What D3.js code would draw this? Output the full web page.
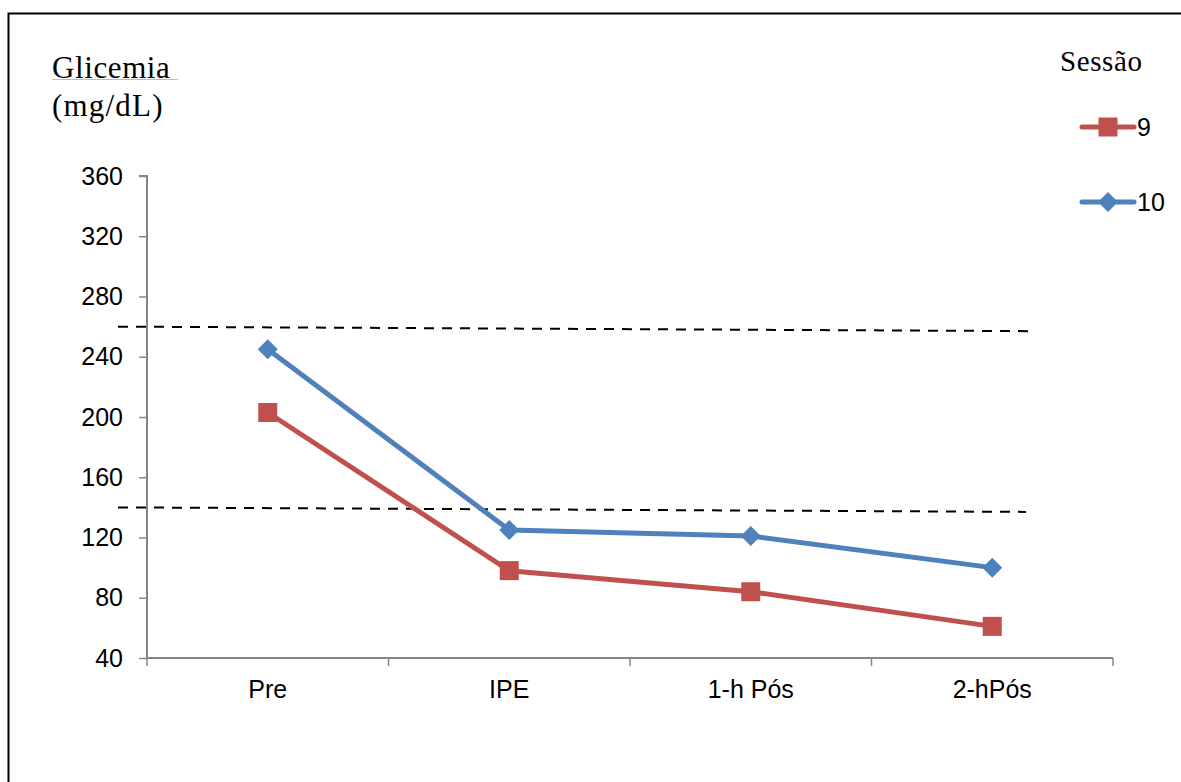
<!DOCTYPE html>
<html>
<head>
<meta charset="utf-8">
<script src="https://cdn.jsdelivr.net/npm/d3@7"></script>
<style>
  html, body { margin: 0; padding: 0; background: #fff; }
  svg { display: block; }
</style>
</head>
<body>
<svg id="chart" width="1181" height="782"></svg>
<script>
// Time points of the session
const categories = ["Pre", "IPE", "1-h Pós", "2-hPós"];
// Blood glucose (mg/dL) per session
const session9 = [203, 98, 84, 61];
const session10 = [245, 125, 121, 100];
const seriesNames = ["9", "10"];
// y-axis ticks
const yTicks = [40, 80, 120, 160, 200, 240, 280, 320, 360];
// Reference glucose bands (start / end values of the dashed guides)
const refStart = [260, 140];
const refEnd = [257, 137];

const svg = d3.select("#chart");
const margin = { left: 147, right: 1113, top: 176, bottom: 658 };
const sans = "Liberation Sans, Arial, sans-serif";
const serif = "Liberation Serif, serif";

const x = d3.scaleBand().domain(categories).range([margin.left, margin.right]);
const y = d3.scaleLinear().domain([40, 360]).range([margin.bottom, margin.top]);
const cx = c => x(c) + x.bandwidth() / 2;

// Frame
svg.append("path")
  .attr("d", `M8.5,782 L8.5,13.5 L1181,13.5`)
  .attr("fill", "none").attr("stroke", "#000").attr("stroke-width", 2);

// Axis title
svg.append("text").attr("x", 52).attr("y", 78)
  .attr("font-family", serif).attr("font-size", 31).attr("letter-spacing", 0.6).attr("fill", "#000")
  .text("Glicemia");
svg.append("line").attr("x1", 52).attr("x2", 178).attr("y1", 79.5).attr("y2", 79.5)
  .attr("stroke", "#f2a6a6").attr("stroke-width", 1);
svg.append("text").attr("x", 52).attr("y", 116)
  .attr("font-family", serif).attr("font-size", 31).attr("letter-spacing", 1.2).attr("fill", "#000")
  .text("(mg/dL)");

// Y axis
const yAxis = svg.append("g").attr("transform", `translate(${margin.left},0)`)
  .call(d3.axisLeft(y).tickValues(yTicks).tickSize(8).tickPadding(16).tickFormat(d3.format("d")));
yAxis.select(".domain").attr("stroke", "#868686").attr("stroke-width", 2).attr("d", `M-8,${margin.top}H0V${margin.bottom}`);
yAxis.selectAll(".tick line").attr("stroke", "#868686").attr("stroke-width", 1.5);
yAxis.selectAll(".tick text").attr("font-family", sans).attr("font-size", 25).attr("fill", "#000");

// X axis
const xAxis = svg.append("g").attr("transform", `translate(0,${margin.bottom})`)
  .call(d3.axisBottom(x).tickSize(0).tickPadding(22));
xAxis.select(".domain").attr("stroke", "#868686").attr("stroke-width", 2)
  .attr("d", `M${margin.left},0H${margin.right}`);
xAxis.selectAll(".tick text").attr("font-family", sans).attr("font-size", 25).attr("fill", "#000");
// category boundary ticks
const bounds = categories.map(c => x(c)).concat([margin.right]);
xAxis.selectAll("line.bound").data(bounds).enter().append("line")
  .attr("class", "bound").attr("x1", d => d).attr("x2", d => d).attr("y1", 0).attr("y2", 8)
  .attr("stroke", "#868686").attr("stroke-width", 1.5);

// Dashed reference guides
refStart.forEach((v, i) => {
  svg.append("line")
    .attr("x1", 118).attr("y1", y(v))
    .attr("x2", i === 0 ? 1031 : 1026).attr("y2", y(refEnd[i]))
    .attr("stroke", "#000").attr("stroke-width", 2).attr("stroke-dasharray", "10,8");
});

const colors = ["#C0504D", "#4F81BD"];
const line = d3.line().x((d, i) => cx(categories[i])).y(d => y(d));

function square(g, px, py, color) {
  g.append("rect").attr("x", px - 9.5).attr("y", py - 9.5).attr("width", 19).attr("height", 19).attr("fill", color);
}
function diamond(g, px, py, color) {
  const r = 10;
  g.append("path").attr("d", `M${px},${py - r}L${px + r},${py}L${px},${py + r}L${px - r},${py}Z`).attr("fill", color);
}

const seriesData = [session9, session10];
const markers = [square, diamond];

seriesData.forEach((vals, si) => {
  const g = svg.append("g");
  g.append("path").datum(vals).attr("d", line).attr("fill", "none")
    .attr("stroke", colors[si]).attr("stroke-width", 5).attr("stroke-linejoin", "round");
  vals.forEach((v, i) => markers[si](g, cx(categories[i]), y(v), colors[si]));
});

// Legend
svg.append("text").attr("x", 1060).attr("y", 71)
  .attr("font-family", serif).attr("font-size", 29).attr("letter-spacing", 0.6).attr("fill", "#000")
  .text("Sessão");
const legY = [127, 202];
seriesNames.forEach((name, si) => {
  const g = svg.append("g");
  g.append("line").attr("x1", 1082).attr("x2", 1134).attr("y1", legY[si]).attr("y2", legY[si])
    .attr("stroke", colors[si]).attr("stroke-width", 5).attr("stroke-linecap", "round");
  markers[si](g, 1108, legY[si], colors[si]);
  g.append("text").attr("x", 1137).attr("y", legY[si] + 9)
    .attr("font-family", sans).attr("font-size", 25).attr("fill", "#000")
    .text(name);
});
</script>
</body>
</html>
